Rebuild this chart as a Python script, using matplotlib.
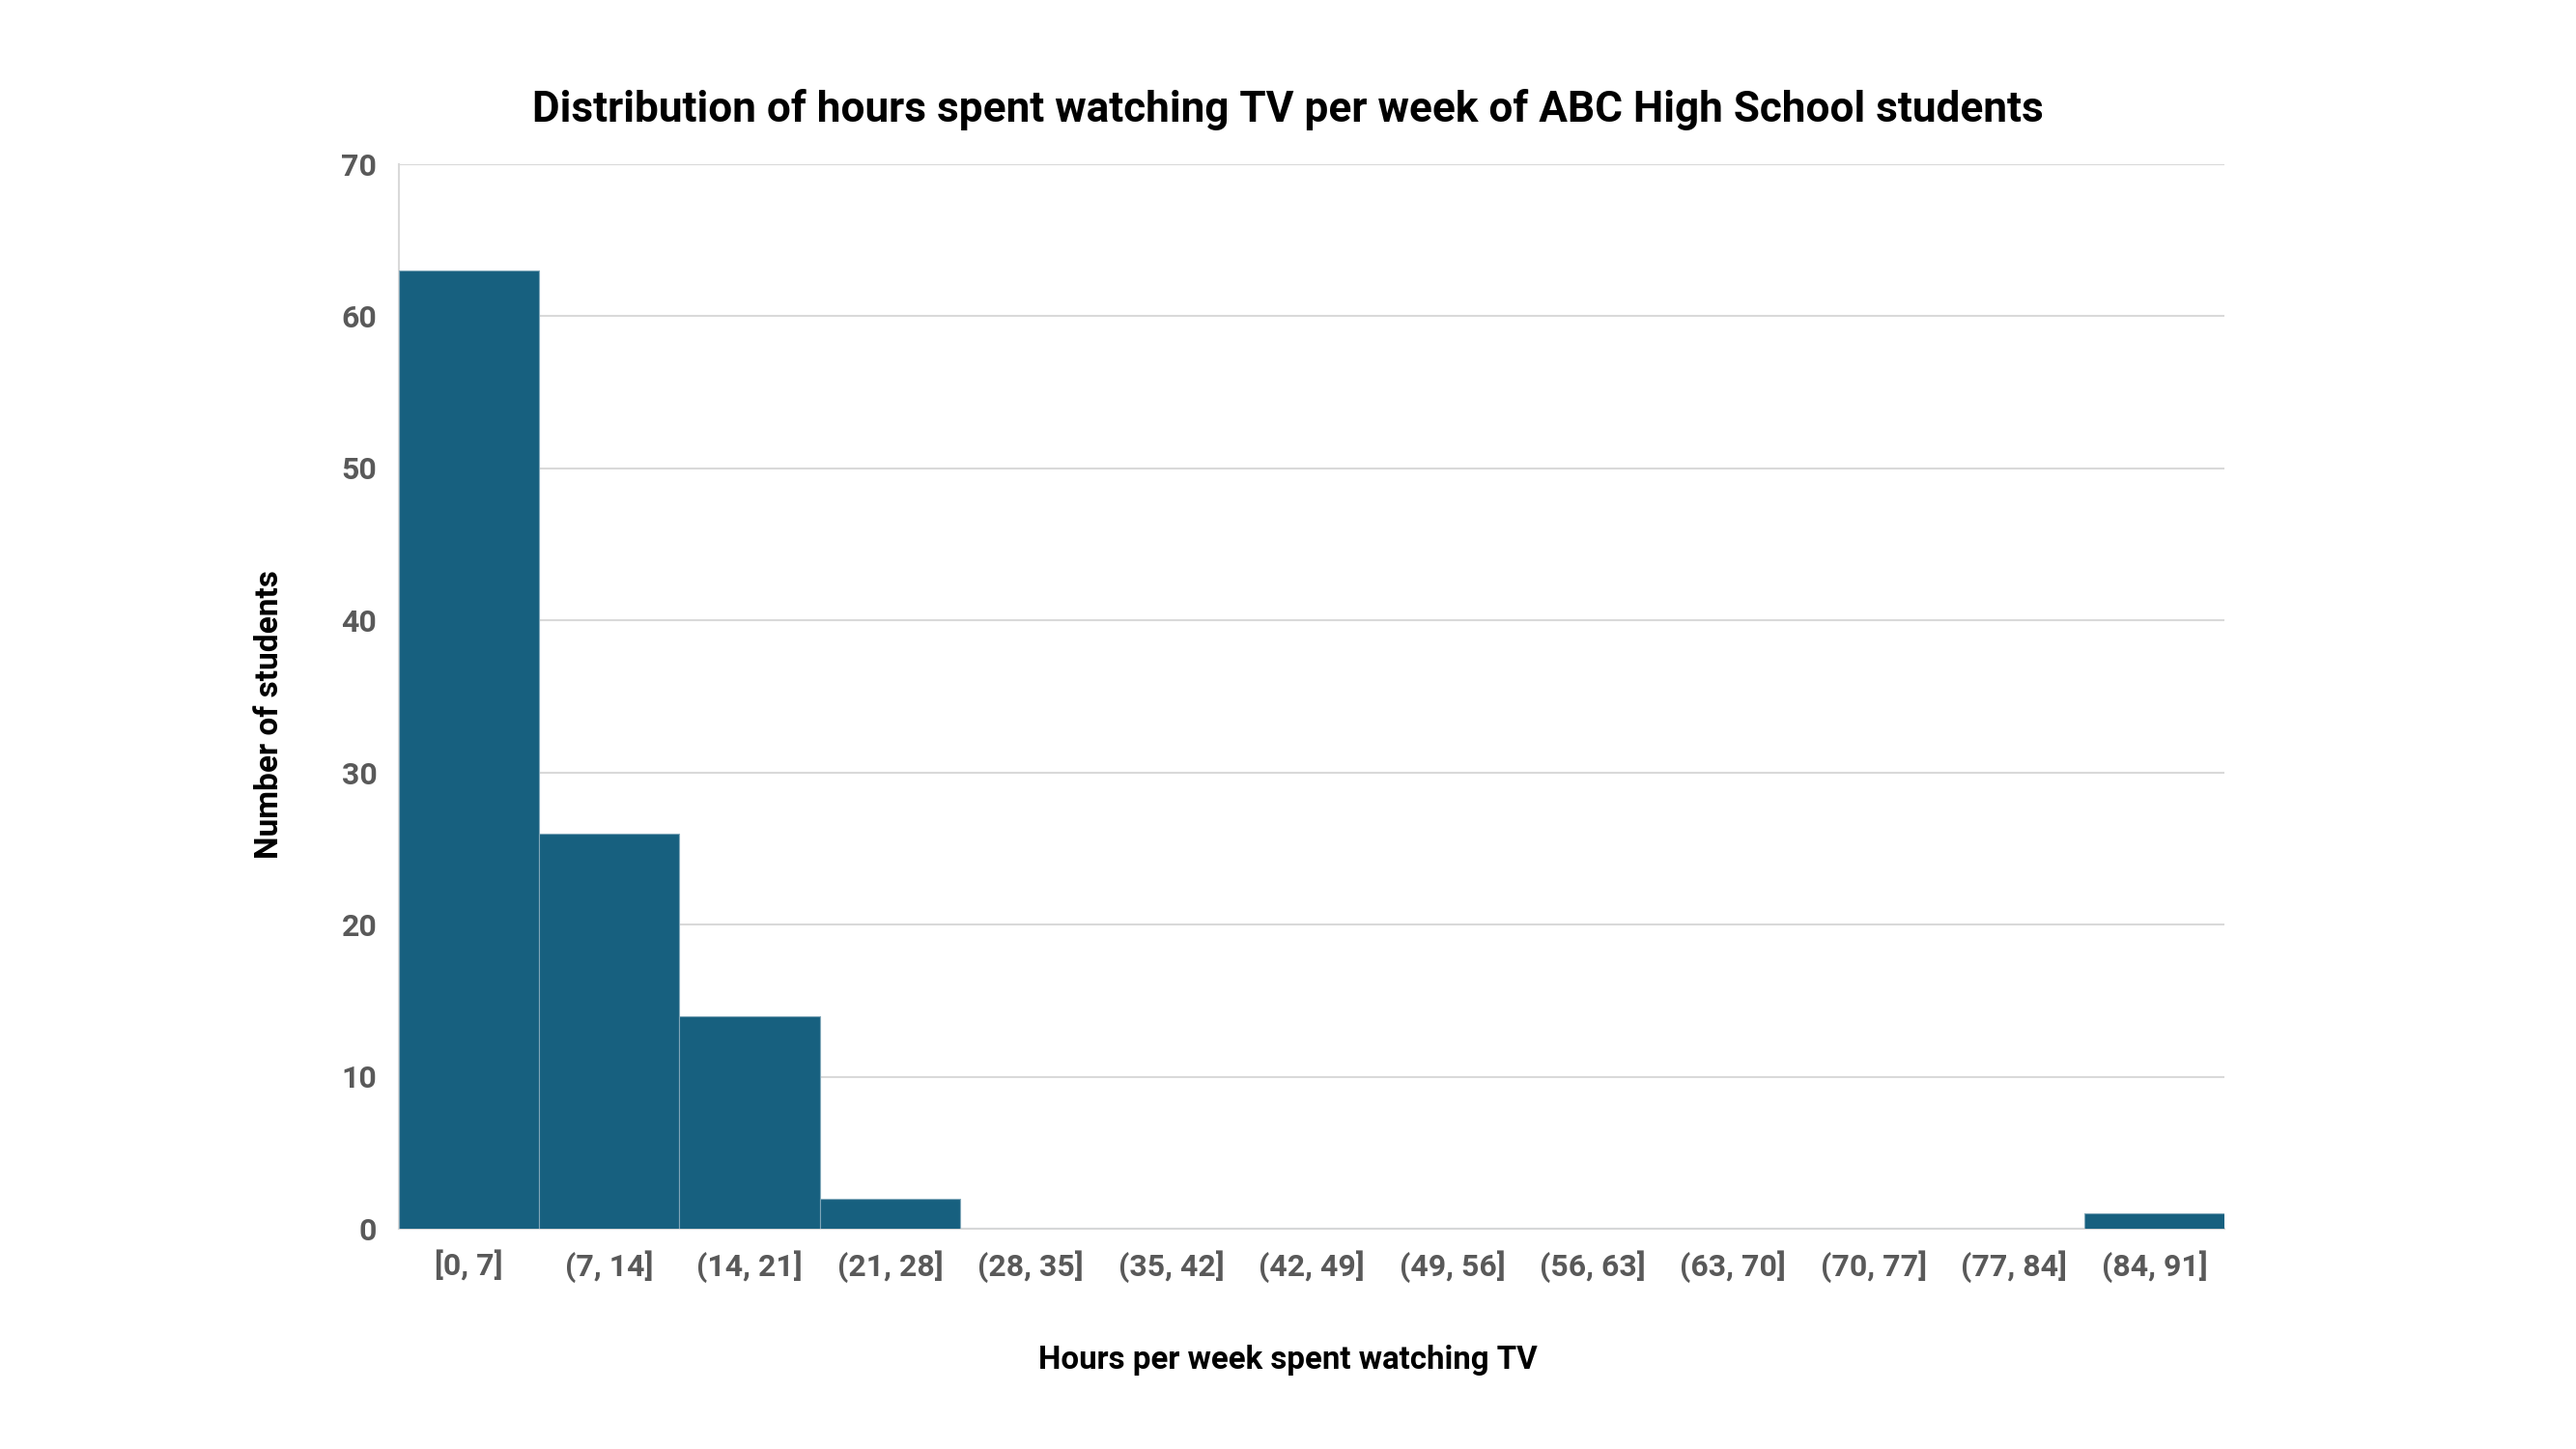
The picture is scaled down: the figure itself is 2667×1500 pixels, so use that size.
import matplotlib
matplotlib.use('Agg')
import matplotlib.pyplot as plt
import numpy as np

plt.rcParams['font.family'] = ['Roboto', 'DejaVu Sans']

bins = ['[0, 7]', '(7, 14]', '(14, 21]', '(21, 28]', '(28, 35]', '(35, 42]', '(42, 49]',
        '(49, 56]', '(56, 63]', '(63, 70]', '(70, 77]', '(77, 84]', '(84, 91]']
counts = [63, 26, 14, 2, 0, 0, 0, 0, 0, 0, 0, 0, 1]
yticks = [0, 10, 20, 30, 40, 50, 60, 70]

fig = plt.figure(figsize=(26.67, 15), dpi=100)
ax = fig.add_axes([0.1547, 0.152, 0.709, 0.735])

x = np.arange(len(bins))
ax.bar(x, counts, width=1.0, color='#17607f', edgecolor='#7fa6b8', linewidth=0.8, zorder=3)

ax.set_xlim(-0.5, len(bins) - 0.5)
ax.set_ylim(0, 70)
ax.set_yticks(yticks)
ax.set_xticks(x)
ax.set_xticklabels(bins)
ax.grid(axis='y', color='#d9d9d9', linewidth=1.5, zorder=0)

for s in ['top', 'right']:
    ax.spines[s].set_visible(False)
for s in ['left', 'bottom']:
    ax.spines[s].set_color('#d9d9d9')
    ax.spines[s].set_linewidth(1.5)

ax.tick_params(axis='both', length=0, labelsize=23, labelcolor='#595959')
ax.tick_params(axis='x', pad=16)
ax.tick_params(axis='y', pad=16)
for lbl in ax.get_xticklabels() + ax.get_yticklabels():
    lbl.set_fontweight('bold')

# title and axis titles are centred on the figure, not the plot area
ax.set_title('Distribution of hours spent watching TV per week of ABC High School students',
             fontsize=31.8, fontweight='bold', pad=31, x=0.487)
ax.set_xlabel('Hours per week spent watching TV', fontsize=23.8, fontweight='bold',
              labelpad=46, x=0.487)
ax.set_ylabel('Number of students', fontsize=24, fontweight='bold', labelpad=42, y=0.483)

fig.savefig('out.png', dpi=100)
